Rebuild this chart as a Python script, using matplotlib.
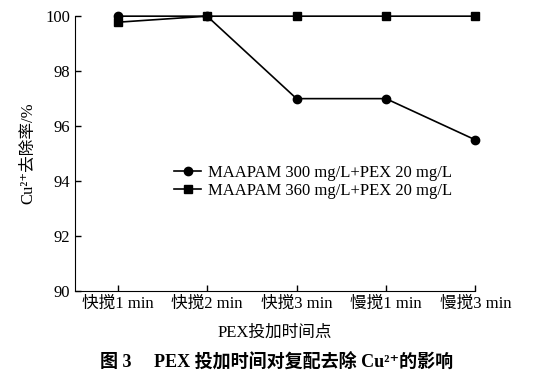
import matplotlib
matplotlib.use("Agg")
import matplotlib.pyplot as plt

plt.rcParams['font.family'] = ['Liberation Serif', 'Noto Sans CJK SC', 'DejaVu Serif']

categories = ['快搅1 min', '快搅2 min', '快搅3 min', '慢搅1 min', '慢搅3 min']
s300 = [100.0, 100.0, 97.0, 97.0, 95.5]
s360 = [99.78, 100.0, 100.0, 100.0, 100.0]
labels = ['MAAPAM 300 mg/L+PEX 20 mg/L', 'MAAPAM 360 mg/L+PEX 20 mg/L']
yticks = [90, 92, 94, 96, 98, 100]

fig = plt.figure(figsize=(5.54, 3.85), dpi=100)
ax = fig.add_axes([0.135, 0.244, 0.723, 0.714])
x = list(range(len(categories)))
ax.plot(x, s300, '-o', color='black', lw=1.2, ms=6, label=labels[0], clip_on=False)
ax.plot(x, s360, '-s', color='black', lw=1.2, ms=6, label=labels[1], clip_on=False)
ax.set_xlim(-0.48, 4)
ax.set_ylim(90, 100)
ax.set_yticks(yticks)
ax.set_xticks(x)
ax.set_xticklabels(categories)
for s in ['top', 'right']:
    ax.spines[s].set_visible(False)
ax.tick_params(direction='in', length=4, labelsize=12, width=1)
ax.set_ylabel('Cu²⁺去除率/%', fontsize=12, labelpad=6)
ax.set_xlabel('PEX投加时间点', fontsize=12, labelpad=9)
ax.legend(loc='upper left', bbox_to_anchor=(0.228, 0.49), frameon=False, fontsize=12,
          handlelength=1.6, handletextpad=0.4, borderpad=0, labelspacing=0.15)
fig.text(0.5, 0.045, '图 3　 PEX 投加时间对复配去除 Cu²⁺的影响', ha='center', fontsize=13, fontweight='bold')
fig.savefig('out.png', dpi=100)
